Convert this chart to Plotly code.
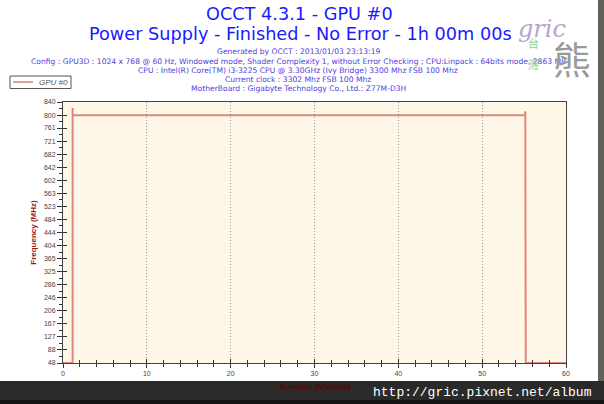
import plotly.graph_objects as go

# ---------------- data ----------------
title_main = "OCCT 4.3.1 - GPU #0"
title_sub = "Power Supply - Finished - No Error - 1h 00m 00s"
info_lines = [
    "Generated by OCCT : 2013/01/03 23:13:19",
    "Config : GPU3D : 1024 x 768 @ 60 Hz, Windowed mode, Shader Complexity 1, without Error Checking ; CPU:Linpack : 64bits mode, 2863 MB",
    "CPU : Intel(R) Core(TM) i3-3225 CPU @ 3.30GHz (Ivy Bridge) 3300 Mhz FSB 100 Mhz",
    "Current clock : 3302 Mhz FSB 100 Mhz",
    "MotherBoard : Gigabyte Technology Co., Ltd.: Z77M-D3H",
]
series_name = "GPU #0"
time_min = [0, 1.15, 1.15, 1.15, 55.12, 55.15, 55.17, 55.17, 55.17, 55.2, 60]
freq_mhz = [48, 48, 822, 800, 800, 812, 394, 416, 394, 48, 48]
ytick_labels = [48, 88, 127, 167, 206, 246, 286, 325, 365, 404, 444,
                484, 523, 563, 602, 642, 682, 721, 761, 800, 840]
xtick_labels = [0, 10, 20, 30, 40, 50, 60]
y_title = "Frequency (MHz)"
x_title = "Duration (Minutes)"
url_text = "http://gric.pixnet.net/album"

# ---------------- geometry ----------------
W_FIG, H_FIG = 604, 404
L, R, T, B = 63, 566, 102, 363
PW, PH = R - L, B - T


def px(xp):
    return (xp - L) / PW


def py(yp):
    return (B - yp) / PH


LINE_COLOR = "rgba(200,40,40,0.55)"

fig = go.Figure()
fig.add_trace(go.Scatter(
    x=time_min, y=freq_mhz, mode="lines", name=series_name,
    line=dict(color=LINE_COLOR, width=2),
    showlegend=False, hoverinfo="skip",
))

tickfont = dict(family="Liberation Sans", size=7, color="#444")

fig.update_layout(
    width=W_FIG, height=H_FIG, autosize=False,
    margin=dict(l=L, r=W_FIG - R, t=T, b=H_FIG - B, pad=0),
    paper_bgcolor="white", plot_bgcolor="#fff8e8",
    xaxis=dict(
        range=[0, 60], tickvals=xtick_labels, ticks="outside", ticklen=4,
        tickcolor="#333", tickfont=tickfont, showline=True, linecolor="#444",
        linewidth=1, mirror=True, showgrid=True, gridcolor="#999",
        griddash="1px,2px", gridwidth=1, zeroline=False,
        minor=dict(dtick=2, ticks="outside", ticklen=3, tickcolor="#333", showgrid=False),
    ),
    yaxis=dict(
        range=[48, 840], tickvals=ytick_labels, ticks="outside", ticklen=5,
        tickcolor="#333", tickfont=tickfont, showline=True, linecolor="#444",
        linewidth=1, mirror=True, showgrid=False, zeroline=False,
        title=dict(text="<b>" + y_title + "</b>",
                   font=dict(family="Liberation Sans", size=8, color="#a01818"),
                   standoff=6),
        minor=dict(tickvals=[(a + b) / 2 for a, b in zip(ytick_labels[:-1], ytick_labels[1:])],
                   ticks="outside", ticklen=3, tickcolor="#333"),
    ),
    xaxis2=dict(range=[0, 60], overlaying="x", side="bottom", tickvals=xtick_labels,
                ticks="inside", ticklen=4, tickcolor="#333", showticklabels=False,
                showline=False, showgrid=False, zeroline=False,
                minor=dict(dtick=2, ticks="inside", ticklen=3, tickcolor="#333")),
    yaxis2=dict(range=[48, 840], overlaying="y", side="left", tickvals=ytick_labels,
                ticks="inside", ticklen=4, tickcolor="#333", showticklabels=False,
                showline=False, showgrid=False, zeroline=False),
    showlegend=False,
)

fig.add_trace(go.Scatter(x=[None], y=[None], xaxis="x2", yaxis="y2",
                         showlegend=False, hoverinfo="skip"))

ann = []
ann.append(dict(text=title_main, x=px(299), y=py(14), xref="paper", yref="paper",
                showarrow=False, xanchor="center", yanchor="middle",
                font=dict(family="DejaVu Sans", size=17.7, color="#1a1aff")))
ann.append(dict(text=title_sub, x=px(300), y=py(34), xref="paper", yref="paper",
                showarrow=False, xanchor="center", yanchor="middle",
                font=dict(family="DejaVu Sans", size=17.7, color="#1a1aff")))
line_y = [51.5, 61, 70.2, 79.4, 88.5]
for txt, yy in zip(info_lines, line_y):
    ann.append(dict(text=txt, x=px(298), y=py(yy), xref="paper", yref="paper",
                    showarrow=False, xanchor="center", yanchor="middle",
                    font=dict(family="DejaVu Sans", size=7.6, color="#5040e0")))

# legend box (drawn by hand)
ann.append(dict(text="<i>" + series_name + "</i>", x=px(37), y=py(82), xref="paper", yref="paper",
                showarrow=False, xanchor="left", yanchor="middle",
                font=dict(family="Liberation Sans", size=8, color="#555")))

# watermark
ann.append(dict(text="<i>gric</i>", x=px(542), y=py(29), xref="paper", yref="paper",
                showarrow=False, xanchor="center", yanchor="middle",
                font=dict(family="DejaVu Serif", size=24, color="#b9a4cf")))
ann.append(dict(text="台", x=px(533), y=py(43), xref="paper", yref="paper",
                showarrow=False, xanchor="center", yanchor="middle",
                font=dict(family="Noto Sans CJK TC", size=11, color="#8fd08f")))
ann.append(dict(text="灣", x=px(533), y=py(64), xref="paper", yref="paper",
                showarrow=False, xanchor="center", yanchor="middle",
                font=dict(family="Noto Sans CJK TC", size=11, color="#8fd08f")))
ann.append(dict(text="熊", x=px(572), y=py(57), xref="paper", yref="paper",
                showarrow=False, xanchor="center", yanchor="middle",
                font=dict(family="Noto Sans CJK TC", size=38, color="#9a9a9a")))

# x title and url
ann.append(dict(text="<b>" + x_title + "</b>", x=px(315), y=py(386), xref="paper", yref="paper",
                showarrow=False, xanchor="center", yanchor="middle",
                font=dict(family="Liberation Sans", size=8, color="#5a0808")))
ann.append(dict(text=url_text, x=px(594), y=py(392), xref="paper", yref="paper",
                showarrow=False, xanchor="right", yanchor="middle",
                font=dict(family="Liberation Mono", size=13, color="white")))

fig.update_layout(annotations=ann)

shapes = [
    dict(type="rect", xref="paper", yref="paper", x0=px(0), x1=px(604), y0=py(381), y1=py(404),
         fillcolor="#2a2a2a", line=dict(width=0), layer="below"),
    dict(type="rect", xref="paper", yref="paper", x0=px(0), x1=px(604), y0=py(400), y1=py(404),
         fillcolor="#141414", line=dict(width=0), layer="below"),
    dict(type="rect", xref="paper", yref="paper", x0=px(598), x1=px(604), y0=py(0), y1=py(381),
         fillcolor="#62625a", line=dict(width=0), layer="below"),
    # legend frame and sample line
    dict(type="rect", xref="paper", yref="paper", x0=px(10), x1=px(71), y0=py(76), y1=py(88.5),
         fillcolor="white", line=dict(color="#555", width=1), layer="above"),
    dict(type="line", xref="paper", yref="paper", x0=px(13), x1=px(33), y0=py(82), y1=py(82),
         line=dict(color="#cc3a3a", width=1), layer="above"),
]
fig.update_layout(shapes=shapes)

fig.write_html("out.html", config={"displayModeBar": False, "staticPlot": False})

with open("out.html", "r", encoding="utf-8") as f:
    html = f.read()
html = html.replace("<head>", "<head><style>html,body{margin:0;padding:0;overflow:hidden;}</style>", 1)
with open("out.html", "w", encoding="utf-8") as f:
    f.write(html)
